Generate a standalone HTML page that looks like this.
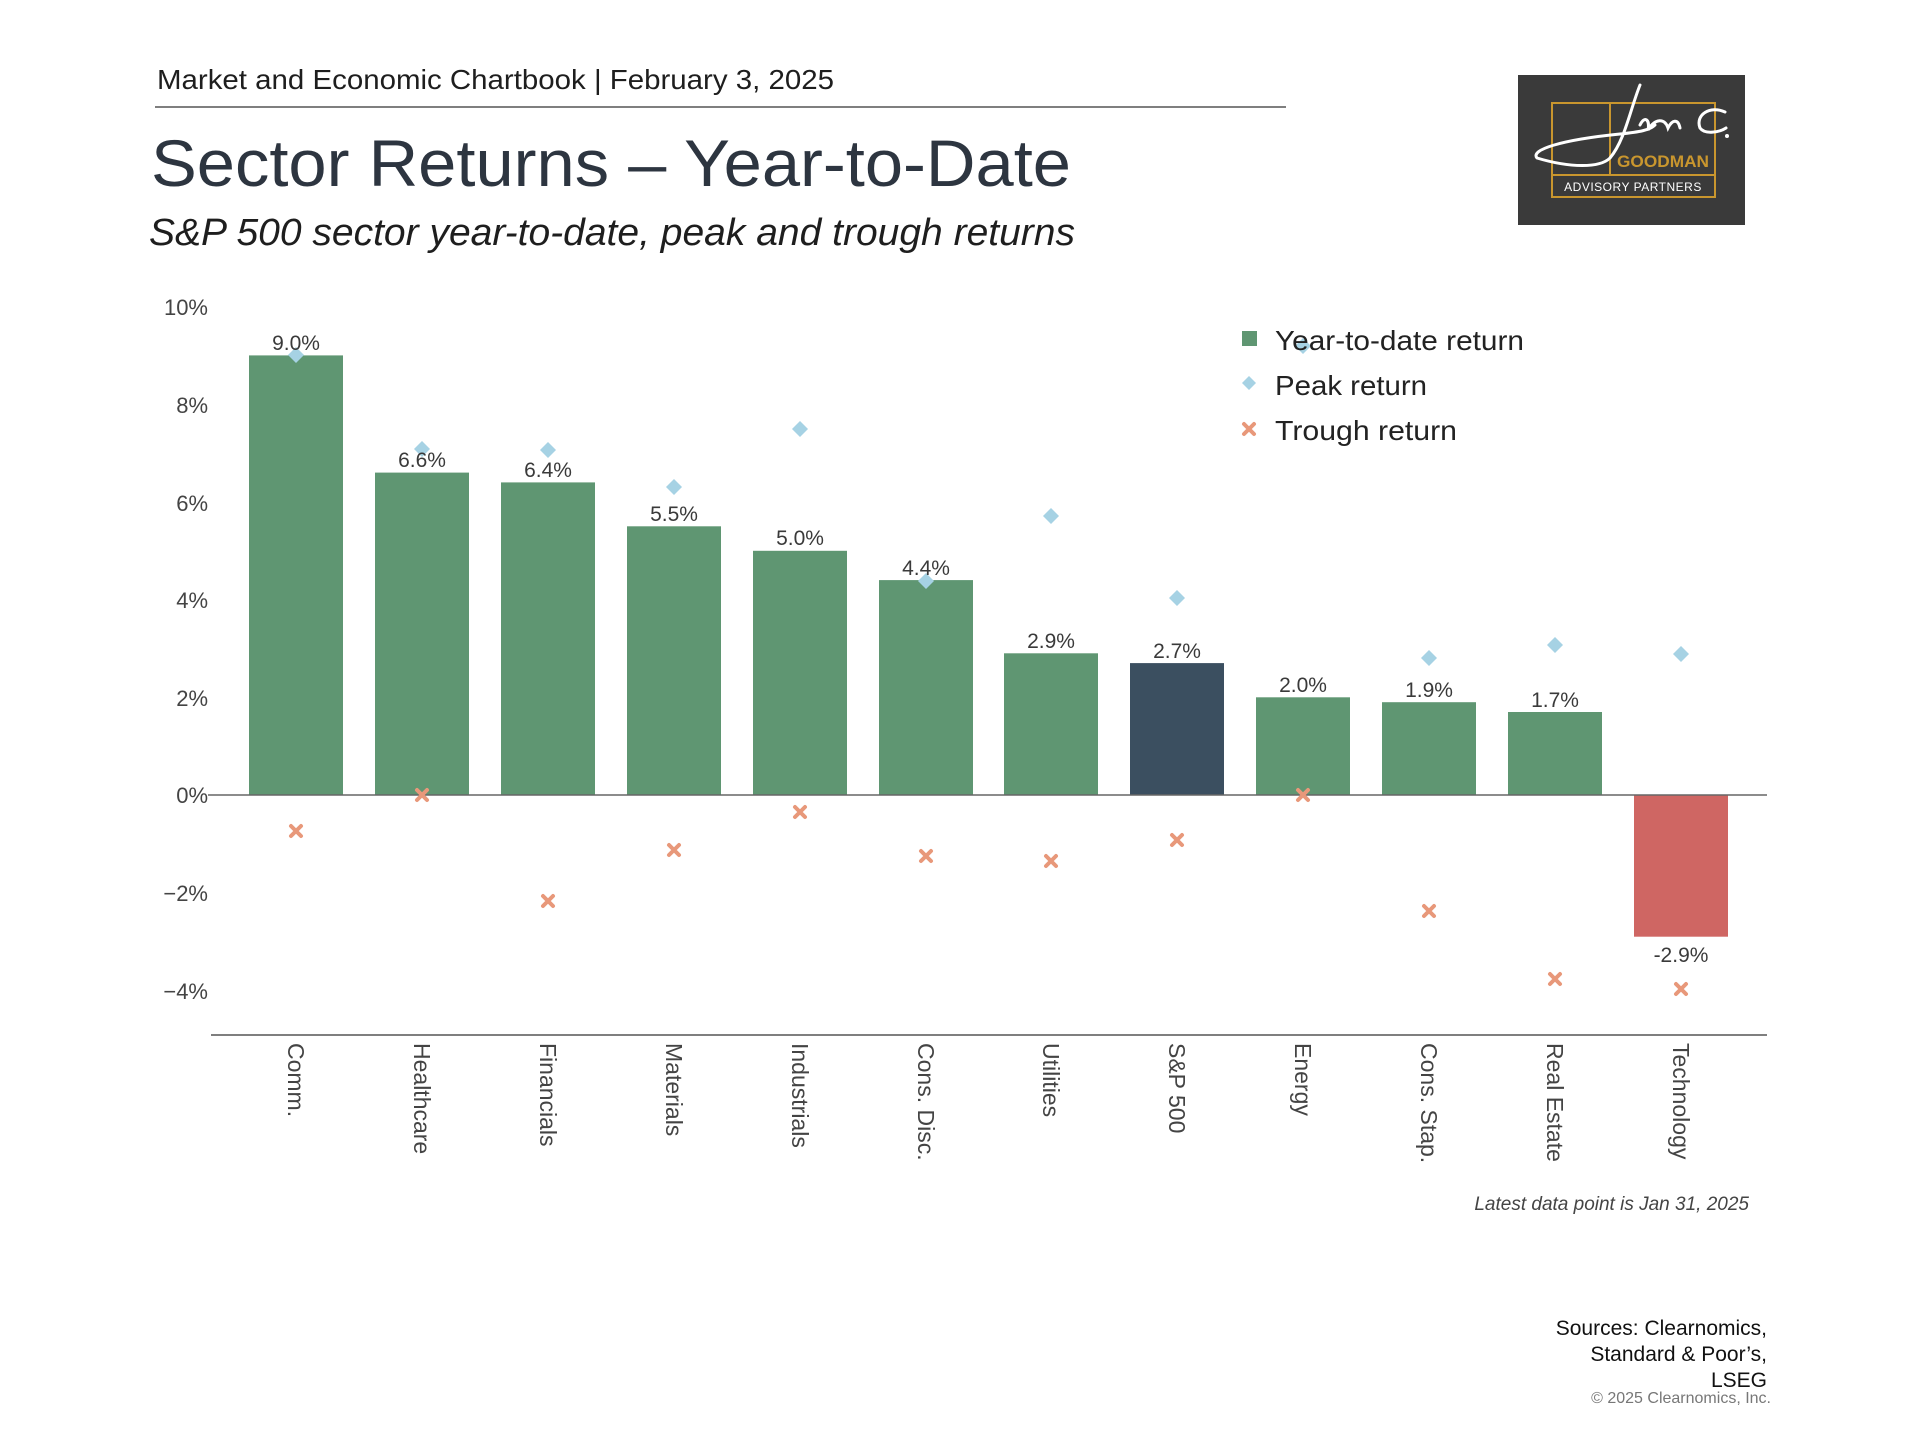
<!DOCTYPE html>
<html><head><meta charset="utf-8"><style>
html,body{margin:0;padding:0;background:#fff;}
svg{display:block;}
text{font-family:"Liberation Sans",sans-serif;}
</style></head><body>
<svg width="1920" height="1440" viewBox="0 0 1920 1440" xmlns="http://www.w3.org/2000/svg">
<text x="157" y="89" font-size="28" fill="#1e1e1e" textLength="677" lengthAdjust="spacingAndGlyphs">Market and Economic Chartbook | February 3, 2025</text>
<line x1="155" y1="107" x2="1286" y2="107" stroke="#555" stroke-width="1.5"/>
<text x="151" y="186" font-size="66" fill="#2d3540" textLength="920" lengthAdjust="spacingAndGlyphs">Sector Returns – Year-to-Date</text>
<text x="149" y="245" font-size="38" font-style="italic" fill="#1e1e1e" textLength="926" lengthAdjust="spacingAndGlyphs">S&amp;P 500 sector year-to-date, peak and trough returns</text>

<!-- logo -->
<rect x="1518" y="75" width="227" height="150" fill="#3a3a3a"/>
<g stroke="#c9962e" stroke-width="2" fill="none">
<rect x="1552" y="103" width="163" height="94"/>
<line x1="1610" y1="103" x2="1610" y2="175"/>
<line x1="1552" y1="175" x2="1715" y2="175"/>
</g>
<text x="1617" y="167" font-size="17" font-weight="bold" fill="#c9962e" textLength="92" lengthAdjust="spacingAndGlyphs">GOODMAN</text>
<text x="1633" y="191" font-size="12" font-family="Liberation Serif" fill="#fff" text-anchor="middle" letter-spacing="0.5">ADVISORY PARTNERS</text>
<path d="M1640 85 C1630 110 1625 140 1610 158 C1600 168 1570 168 1537 158 C1530 150 1560 140 1620 134 C1640 132 1650 130 1655 125 M1640 125 C1645 115 1650 120 1648 130 C1655 118 1665 118 1668 128 C1672 120 1678 118 1680 128 M1725 112 C1710 105 1695 115 1700 128 C1705 135 1720 132 1726 128" stroke="#fff" stroke-width="3" fill="none" stroke-linecap="round"/>
<circle cx="1727" cy="136" r="2" fill="#fff"/>

<!-- y axis labels -->
<g font-size="22" fill="#444" text-anchor="end">
<text x="208" y="315">10%</text>
<text x="208" y="413">8%</text>
<text x="208" y="511">6%</text>
<text x="208" y="608">4%</text>
<text x="208" y="706">2%</text>
<text x="208" y="803">0%</text>
<text x="208" y="901">−2%</text>
<text x="208" y="999">−4%</text>
</g>

<!-- bars -->
<g fill="#5f9672">
<rect x="249" y="355.4" width="94" height="439.6"/>
<rect x="375" y="472.6" width="94" height="322.4"/>
<rect x="501" y="482.4" width="94" height="312.6"/>
<rect x="627" y="526.3" width="94" height="268.7"/>
<rect x="753" y="550.8" width="94" height="244.2"/>
<rect x="879" y="580.1" width="94" height="214.9"/>
<rect x="1004" y="653.3" width="94" height="141.7"/>
<rect x="1256" y="697.3" width="94" height="97.7"/>
<rect x="1382" y="702.2" width="94" height="92.8"/>
<rect x="1508" y="712" width="94" height="83"/>
</g>
<rect x="1130" y="663.1" width="94" height="131.9" fill="#3b4f60"/>
<rect x="1634" y="795" width="94" height="141.7" fill="#cf6663"/>

<line x1="208" y1="795" x2="1767" y2="795" stroke="#666" stroke-width="1.5"/>
<line x1="211" y1="1035" x2="1767" y2="1035" stroke="#555" stroke-width="1.5"/>

<!-- peak diamonds -->
<g fill="#a6d2e4">
<path d="M296 347l8 8-8 8-8-8z"/>
<path d="M422 441l8 8-8 8-8-8z"/>
<path d="M548 442l8 8-8 8-8-8z"/>
<path d="M674 479l8 8-8 8-8-8z"/>
<path d="M800 421l8 8-8 8-8-8z"/>
<path d="M926 573l8 8-8 8-8-8z"/>
<path d="M1051 508l8 8-8 8-8-8z"/>
<path d="M1177 590l8 8-8 8-8-8z"/>
<path d="M1303 338l8 8-8 8-8-8z"/>
<path d="M1429 650l8 8-8 8-8-8z"/>
<path d="M1555 637l8 8-8 8-8-8z"/>
<path d="M1681 646l8 8-8 8-8-8z"/>
</g>

<!-- trough X -->
<g stroke="#e8987a" stroke-width="4" stroke-linecap="round">
<path d="M291 826l10 10m0-10l-10 10"/>
<path d="M417 790l10 10m0-10l-10 10"/>
<path d="M543 896l10 10m0-10l-10 10"/>
<path d="M669 845l10 10m0-10l-10 10"/>
<path d="M795 807l10 10m0-10l-10 10"/>
<path d="M921 851l10 10m0-10l-10 10"/>
<path d="M1046 856l10 10m0-10l-10 10"/>
<path d="M1172 835l10 10m0-10l-10 10"/>
<path d="M1298 790l10 10m0-10l-10 10"/>
<path d="M1424 906l10 10m0-10l-10 10"/>
<path d="M1550 974l10 10m0-10l-10 10"/>
<path d="M1676 984l10 10m0-10l-10 10"/>
</g>

<!-- value labels -->
<g font-size="21" fill="#3a3a3a" text-anchor="middle">
<text x="296" y="350">9.0%</text>
<text x="422" y="467">6.6%</text>
<text x="548" y="477">6.4%</text>
<text x="674" y="521">5.5%</text>
<text x="800" y="545">5.0%</text>
<text x="926" y="575">4.4%</text>
<text x="1051" y="648">2.9%</text>
<text x="1177" y="658">2.7%</text>
<text x="1303" y="692">2.0%</text>
<text x="1429" y="697">1.9%</text>
<text x="1555" y="707">1.7%</text>
<text x="1681" y="962">-2.9%</text>
</g>

<!-- x labels -->
<g font-size="23" fill="#444">
<text transform="translate(288,1043) rotate(90)">Comm.</text>
<text transform="translate(414,1043) rotate(90)">Healthcare</text>
<text transform="translate(540,1043) rotate(90)">Financials</text>
<text transform="translate(666,1043) rotate(90)">Materials</text>
<text transform="translate(792,1043) rotate(90)">Industrials</text>
<text transform="translate(918,1043) rotate(90)">Cons. Disc.</text>
<text transform="translate(1043,1043) rotate(90)">Utilities</text>
<text transform="translate(1169,1043) rotate(90)">S&amp;P 500</text>
<text transform="translate(1295,1043) rotate(90)">Energy</text>
<text transform="translate(1421,1043) rotate(90)">Cons. Stap.</text>
<text transform="translate(1547,1043) rotate(90)">Real Estate</text>
<text transform="translate(1673,1043) rotate(90)">Technology</text>
</g>

<!-- legend -->
<rect x="1242" y="331" width="15" height="15" fill="#5f9672"/>
<path d="M1249 376l7 7-7 7-7-7z" fill="#a6d2e4"/>
<path d="M1244 424l10 10m0-10l-10 10" stroke="#e8987a" stroke-width="4" stroke-linecap="round"/>
<g font-size="28" fill="#222">
<text x="1275" y="350" textLength="249" lengthAdjust="spacingAndGlyphs">Year-to-date return</text>
<text x="1275" y="395" textLength="152" lengthAdjust="spacingAndGlyphs">Peak return</text>
<text x="1275" y="440" textLength="182" lengthAdjust="spacingAndGlyphs">Trough return</text>
</g>

<text x="1749" y="1210" font-size="19" font-style="italic" fill="#444" text-anchor="end">Latest data point is Jan 31, 2025</text>

<g font-size="21" fill="#111" text-anchor="end">
<text x="1767" y="1335">Sources: Clearnomics,</text>
<text x="1767" y="1361">Standard &amp; Poor’s,</text>
<text x="1767" y="1387">LSEG</text>
</g>
<text x="1771" y="1403" font-size="16" fill="#777" text-anchor="end">© 2025 Clearnomics, Inc.</text>
</svg>
</body></html>
